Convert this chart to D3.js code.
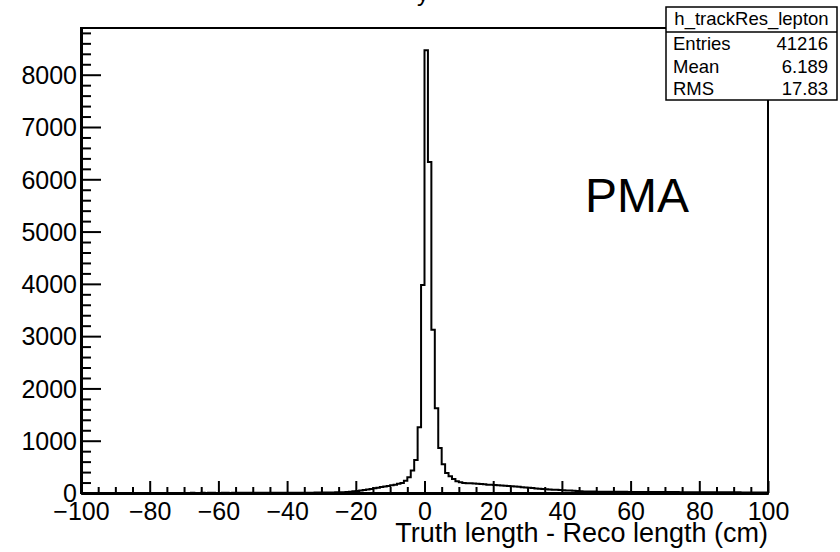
<!DOCTYPE html>
<html>
<head>
<meta charset="utf-8">
<script src="https://cdn.jsdelivr.net/npm/d3@7"></script>
<style>
  html, body { margin: 0; padding: 0; background: #fff; }
  svg { display: block; }
  text { font-family: "Liberation Sans", Arial, Helvetica, sans-serif; fill: #000; }
</style>
</head>
<body>
<svg id="chart" width="840" height="552"></svg>
<script>
// Histogram h_trackRes_lepton: truth length minus reco length, 1 cm bins from -100 to 100
const xRange = [-100, 100];
const binWidth = 1;

// counts for bins -100 .. -1
const countsNegative = [
  1, 0, 1, 1, 0, 1, 1, 1, 0, 1,
  1, 1, 2, 1, 1, 2, 1, 1, 2, 1,
  1, 2, 2, 1, 2, 2, 2, 2, 1, 2,
  2, 2, 3, 2, 2, 3, 2, 3, 3, 2,
  2, 3, 3, 2, 3, 3, 3, 4, 3, 4,
  3, 4, 3, 4, 4, 4, 5, 4, 5, 5,
  4, 5, 5, 5, 6, 6, 7, 7, 8, 9,
  8, 9, 10, 11, 12, 13, 14, 18, 24, 32,
  40, 50, 58, 68, 78, 90, 100, 115, 125, 135,
  150, 160, 175, 190, 235, 300, 430, 631, 1256, 3980
];
// counts for bins 0 .. 99
const countsPositive = [
  8470, 6330, 3120, 1620, 860, 550, 383, 319, 268, 223,
  204, 191, 188, 185, 180, 176, 170, 166, 160, 157,
  152, 148, 143, 140, 135, 130, 124, 118, 112, 106,
  100, 94, 88, 83, 77, 72, 67, 63, 60, 56,
  52, 49, 46, 42, 38, 34, 31, 29, 28, 27,
  26, 25, 25, 24, 24, 23, 23, 22, 22, 21,
  21, 21, 20, 20, 20, 19, 19, 19, 18, 18,
  18, 17, 17, 17, 16, 16, 16, 15, 15, 15,
  14, 14, 14, 14, 13, 13, 13, 13, 12, 12,
  12, 12, 11, 11, 11, 11, 10, 10, 10, 10
];

const xMajorTicks = [-100, -80, -60, -40, -20, 0, 20, 40, 60, 80, 100];
const yMajorTicks = [0, 1000, 2000, 3000, 4000, 5000, 6000, 7000, 8000];

const statsTitle = "h_trackRes_lepton";
const statsLabels = ["Entries", "Mean", "RMS"];
const statsValues = ["41216", "6.189", "17.83"];

const xAxisTitle = "Truth length - Reco length (cm)";
const panelLabel = "PMA";
const histTitle = "y";

// ---- layout ----
const frame = { left: 81, right: 768, top: 28, bottom: 493 };
const counts = countsNegative.concat(countsPositive);
const bins = counts.map((c, i) => ({ x0: xRange[0] + i * binWidth, x1: xRange[0] + (i + 1) * binWidth, c }));
const yMax = d3.max(counts) * 1.05;

const x = d3.scaleLinear().domain(xRange).range([frame.left, frame.right]);
const y = d3.scaleLinear().domain([0, yMax]).range([frame.bottom, frame.top]);

const svg = d3.select("#chart");

// title (sits mostly above the canvas)
svg.append("text")
  .attr("x", 423).attr("y", 1)
  .attr("text-anchor", "middle")
  .style("font-size", "24px")
  .text(histTitle);

// frame
svg.append("rect")
  .attr("x", frame.left).attr("y", frame.top)
  .attr("width", frame.right - frame.left).attr("height", frame.bottom - frame.top)
  .attr("fill", "none").attr("stroke", "#000").attr("stroke-width", 2);

// histogram outline as a step path
const pts = [[x(bins[0].x0), y(0)]];
bins.forEach(b => { pts.push([x(b.x0), y(b.c)]); pts.push([x(b.x1), y(b.c)]); });
pts.push([x(bins[bins.length - 1].x1), y(0)]);
svg.append("path")
  .attr("d", d3.line()(pts))
  .attr("fill", "none").attr("stroke", "#000").attr("stroke-width", 2)
  .attr("stroke-linejoin", "miter");

// x axis: minor ticks every 5, major every 20
const xMinor = d3.range(-100, 100.001, 5).filter(v => !xMajorTicks.includes(v));
const gxMinor = svg.append("g").attr("transform", `translate(0,${frame.bottom})`)
  .call(d3.axisBottom(x).tickValues(xMinor).tickSizeInner(-6).tickSizeOuter(0).tickFormat(""));
const gx = svg.append("g").attr("transform", `translate(0,${frame.bottom})`)
  .call(d3.axisBottom(x).tickValues(xMajorTicks).tickSizeInner(-12).tickSizeOuter(0).tickPadding(9)
    .tickFormat(d => d < 0 ? "\u2212" + Math.abs(d) : String(d)));

// y axis: minor ticks every 200, major every 1000
const yMinor = d3.range(0, yMax, 200).filter(v => !yMajorTicks.includes(v));
const gyMinor = svg.append("g").attr("transform", `translate(${frame.left},0)`)
  .call(d3.axisLeft(y).tickValues(yMinor).tickSizeInner(-10).tickSizeOuter(0).tickFormat(""));
const gy = svg.append("g").attr("transform", `translate(${frame.left},0)`)
  .call(d3.axisLeft(y).tickValues(yMajorTicks).tickSizeInner(-20).tickSizeOuter(0).tickPadding(4)
    .tickFormat(d3.format("d")));

[gx, gxMinor, gy, gyMinor].forEach(g => {
  g.select(".domain").attr("stroke", "#000").attr("stroke-width", 3);
  g.selectAll(".tick line").attr("stroke", "#000").attr("stroke-width", 2);
  g.selectAll(".tick text").attr("fill", "#000")
    .style("font-family", "\"Liberation Sans\", Arial, Helvetica, sans-serif")
    .style("font-size", "25px");
});
gy.selectAll(".tick text").attr("dy", "0.35em");

// axis title
svg.append("text")
  .attr("x", frame.right).attr("y", 542)
  .attr("text-anchor", "end")
  .style("font-size", "27px")
  .text(xAxisTitle);

// label inside the frame
svg.append("text")
  .attr("x", 585).attr("y", 212)
  .style("font-size", "48px")
  .text(panelLabel);

// stats box
const box = { x: 666, y: 7, w: 171, h: 93, head: 25 };
const gs = svg.append("g");
gs.append("rect")
  .attr("x", box.x).attr("y", box.y).attr("width", box.w).attr("height", box.h)
  .attr("fill", "#fff").attr("stroke", "#000").attr("stroke-width", 1.5);
gs.append("line")
  .attr("x1", box.x).attr("x2", box.x + box.w)
  .attr("y1", box.y + box.head).attr("y2", box.y + box.head)
  .attr("stroke", "#000").attr("stroke-width", 1.5);
gs.append("text")
  .attr("x", box.x + box.w / 2).attr("y", box.y + 18)
  .attr("text-anchor", "middle")
  .style("font-size", "18.5px")
  .text(statsTitle);
const rowY = [49.5, 73, 95];
statsLabels.forEach((lab, i) => {
  gs.append("text").attr("x", 673).attr("y", rowY[i]).style("font-size", "18.5px").text(lab);
  gs.append("text").attr("x", 828).attr("y", rowY[i]).attr("text-anchor", "end")
    .style("font-size", "18.5px").text(statsValues[i]);
});
</script>
</body>
</html>
